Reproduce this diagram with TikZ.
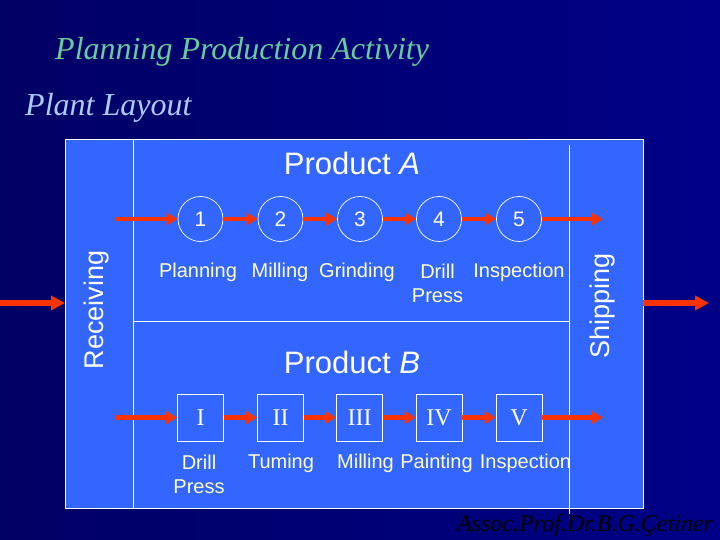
\documentclass[tikz,border=0pt]{standalone}
\usepackage{fontspec}
\setmainfont{Liberation Serif}
\newfontfamily\arial{Liberation Sans}
\usetikzlibrary{arrows.meta}
\definecolor{bgnavy}{RGB}{0,0,100}
\definecolor{bgnavyr}{RGB}{0,0,135}
\definecolor{panelblue}{RGB}{51,102,255}
\definecolor{labyellow}{RGB}{255,255,204}
\definecolor{arrred}{RGB}{255,51,0}
\definecolor{ttlgreen}{RGB}{102,204,153}
\definecolor{ttlblue}{RGB}{170,204,255}
\tikzset{
  station/.style={circle,draw=white,line width=0.7pt,minimum size=45pt,inner sep=0pt,text=white,font=\arial\fontsize{21}{24}\selectfont},
  machine/.style={rectangle,draw=white,line width=0.7pt,minimum width=46pt,minimum height=47pt,inner sep=0pt,text=white,font=\fontsize{24}{26}\selectfont},
  lab/.style={text=labyellow,font=\arial\fontsize{20}{24}\selectfont,align=center,inner sep=0pt},
  flow/.style={draw=arrred,line width=4.5pt,-{Triangle[length=11pt,width=12pt]}},
  bigflow/.style={draw=arrred,line width=5.5pt,-{Triangle[length=14pt,width=14pt]}},
  divline/.style={draw=white,line width=0.7pt},
  prodlab/.style={text=white,font=\arial\fontsize{31}{34}\selectfont,inner sep=0pt},
  sidelab/.style={text=white,font=\arial\fontsize{27}{30}\selectfont,inner sep=0pt,rotate=90},
  ttl/.style={anchor=base west,font=\itshape\fontsize{32}{36}\selectfont,inner sep=0pt}
}
\begin{document}
\begin{tikzpicture}[x=1pt,y=-1pt]
\useasboundingbox (0,0) rectangle (720,540);
\shade[left color=bgnavy,right color=bgnavyr] (0,0) rectangle (720,540);
% titles
\node[ttl,text=ttlgreen] (title) at (55,60) {Planning Production Activity};
\node[ttl,text=ttlblue] (subtitle) at (25,116) {Plant Layout};
% panel
\path[fill=panelblue,draw=white,line width=0.7pt] (65,139) rectangle (643,508);
\draw[divline] (133,139) -- (133,508);
\draw[divline] (133,321) -- (569,321);
\draw[divline] (569,145) -- (569,514);
% side labels
\node[sidelab] (recv) at (97,310) {Receiving};
\node[sidelab] (ship) at (603,306) {Shipping};
% product A
\node[prodlab] (pa) at (352,163) {Product \textit{A}};
\node[station] (c1) at (200.5,219) {1};
\node[station] (c2) at (280.5,219) {2};
\node[station] (c3) at (360,219) {3};
\node[station] (c4) at (439,219) {4};
\node[station] (c5) at (519,219) {5};
\node[lab] (la1) at (198,272) {Planning};
\node[lab] (la2) at (280,272) {Milling};
\node[lab] (la3) at (357,272) {Grinding};
\node[lab,anchor=north] (la4) at (437.5,264) {Drill\\Press};
\node[lab] (la5) at (519,272) {Inspection};
\coordinate (ain) at (116,219);
\coordinate (aout) at (603,219);
\draw[flow] (ain) -- (c1);
\draw[flow] (c1) -- (c2);
\draw[flow] (c2) -- (c3);
\draw[flow] (c3) -- (c4);
\draw[flow] (c4) -- (c5);
\draw[flow] (c5) -- (aout);
% product B
\node[prodlab] (pb) at (352,362) {Product \textit{B}};
\node[machine] (b1) at (200.5,417.5) {I};
\node[machine] (b2) at (280.5,417.5) {II};
\node[machine] (b3) at (359.5,417.5) {III};
\node[machine] (b4) at (439,417.5) {IV};
\node[machine] (b5) at (519,417.5) {V};
\node[lab,anchor=north] (lb1) at (199,455) {Drill\\Press};
\node[lab] (lb2) at (281,463) {Tuming};
\node[lab] (lb3) at (365.5,463) {Milling};
\node[lab] (lb4) at (436.5,463) {Painting};
\node[lab] (lb5) at (525.5,463) {Inspection};
\coordinate (bin) at (116,417.5);
\coordinate (bout) at (603,417.5);
\draw[flow] (bin) -- (b1);
\draw[flow] (b1) -- (b2);
\draw[flow] (b2) -- (b3);
\draw[flow] (b3) -- (b4);
\draw[flow] (b4) -- (b5);
\draw[flow] (b5) -- (bout);
% receiving / shipping
\coordinate (rin) at (0,303);
\coordinate (rend) at (65,303);
\coordinate (sstart) at (643,303);
\coordinate (send) at (709,303);
\draw[bigflow] (rin) -- (rend);
\draw[bigflow] (sstart) -- (send);
% author
\node[anchor=base east,text=black,font=\itshape\fontsize{24}{28}\selectfont,inner sep=0pt] (author) at (713,531) {Assoc.Prof.Dr.B.G.Çetiner};
\end{tikzpicture}
\end{document}
